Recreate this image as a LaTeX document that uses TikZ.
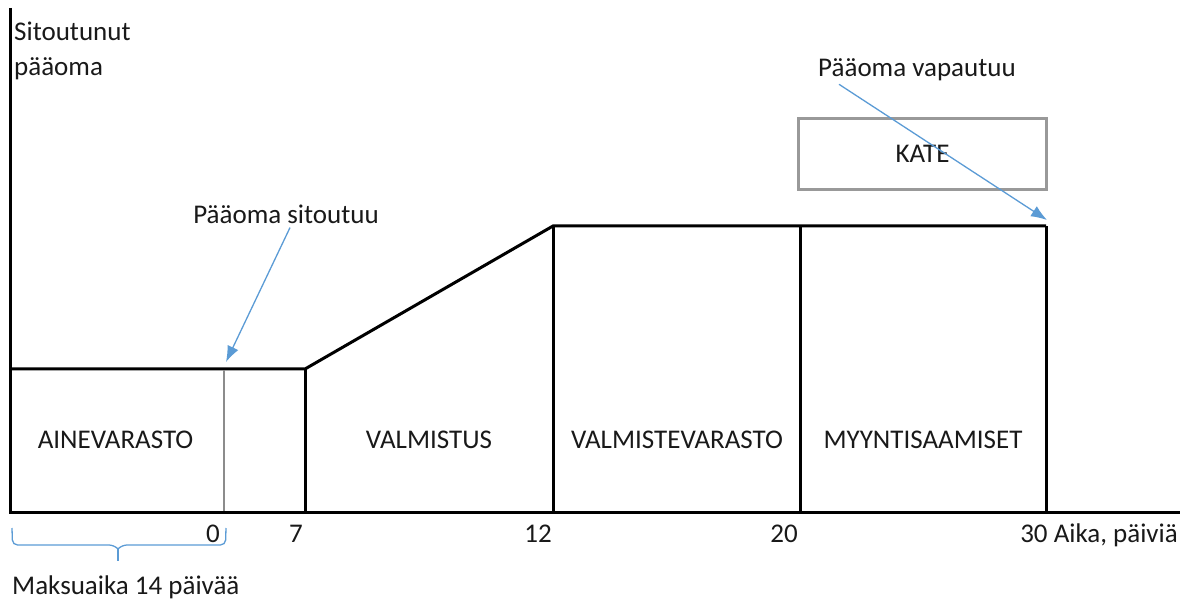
\documentclass[tikz,border=0pt]{standalone}
\usepackage{fontspec}
\setmainfont{Carlito}
\usetikzlibrary{arrows.meta}
\definecolor{arrblue}{RGB}{91,155,213}
\tikzset{
  lbl/.style={font=\fontsize{27}{35}\selectfont, inner sep=0pt, text=black!90},
  thick line/.style={line width=3pt, black},
  dotline/.style={line width=2.5pt, black!45},
  bluearrow/.style={arrblue, line width=1.3pt, -{Latex[length=16pt,width=12pt]}},
  bracestyle/.style={arrblue, line width=1.3pt, rounded corners=5pt},
}
\begin{document}
\begin{tikzpicture}[x=1pt,y=-1pt]
\useasboundingbox (0,0) rectangle (1192,601);
% axes
\draw[thick line] (10,8) -- (10,512) -- (1180,512);
% outline
\draw[thick line] (10,369) -- (305,369) -- (553,226) -- (1046,226);
\draw[thick line] (305,369) -- (305,512);
\draw[thick line] (553,226) -- (553,512);
\draw[thick line] (800,226) -- (800,512);
\draw[thick line] (1046,226) -- (1046,512);
\draw[dotline] (224,370) -- (224,511);
% KATE box
\node[lbl, draw=black!40, line width=2.5pt, minimum width=248pt, minimum height=71pt, inner sep=0pt] (kate) at (922.5,154) {KATE};
% axis labels
\node[lbl, anchor=north west, align=left] (ylab) at (14,22) {Sitoutunut\\pääoma};
\node[lbl] (aine) at (115.5,440) {AINEVARASTO};
\node[lbl] (valm) at (429,440) {VALMISTUS};
\node[lbl] (valv) at (677,440) {VALMISTEVARASTO};
\node[lbl] (myyn) at (923,440) {MYYNTISAAMISET};
\node[lbl, anchor=base] (t0) at (213,542) {0};
\node[lbl, anchor=base] (t7) at (296,542) {7};
\node[lbl, anchor=base] (t12) at (538,542) {12};
\node[lbl, anchor=base] (t20) at (784,542) {20};
\node[lbl, anchor=base east] (t30) at (1178,542) {30 Aika, päiviä};
\node[lbl, anchor=base west] (maksu) at (12,594) {Maksuaika 14 päivää};
% annotations
\node[lbl] (sit) at (286,214) {Pääoma sitoutuu};
\node[lbl] (vap) at (917,70) {Pääoma vapautuu};
\coordinate (sitend) at (226,362);
\coordinate (vapend) at (1047,220);
\draw[bluearrow] ([xshift=4pt,yshift=-4pt]sit.south) -- (sitend);
\draw[bluearrow] ([xshift=-78pt,yshift=-3pt]vap.south) -- (vapend);
% brace
\coordinate (bl) at (12,528);
\coordinate (br) at (226,528);
\coordinate (bt) at (118,561);
\draw[bracestyle] (bl) -- (12.5,545) -- (114,545) -- (118,549);
\draw[bracestyle] (118,549) -- (122,545) -- (225.5,545) -- (br);
\draw[arrblue, line width=1.3pt] (118,548) -- (bt);
\end{tikzpicture}
\end{document}
